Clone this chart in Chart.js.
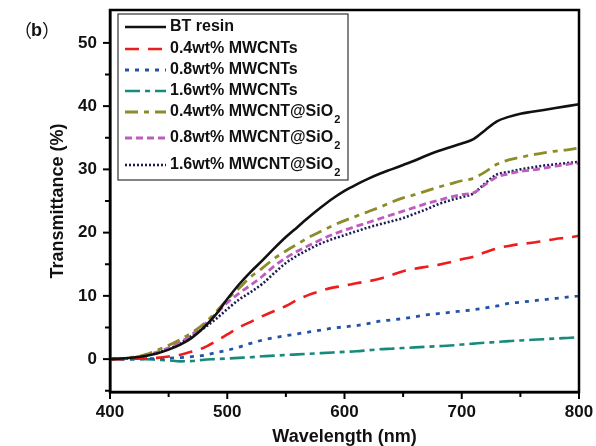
<!DOCTYPE html>
<html>
<head>
<meta charset="utf-8">
<script src="https://cdn.jsdelivr.net/npm/chart.js@4.4.1/dist/chart.umd.min.js"></script>
<style>
  html, body { margin: 0; padding: 0; background: #ffffff; }
  #wrap { width: 596px; height: 446px; position: relative; }
</style>
</head>
<body>
<div id="wrap"><canvas id="c" width="596" height="446"></canvas></div>
<script>
// ---------- data ----------
const wavelengths = [400,410,420,430,440,450,460,470,480,490,500,510,520,530,540,550,560,570,580,590,600,610,620,630,640,650,660,670,680,690,700,710,720,730,740,750,760,770,780,790,800];

const btResin = [0,0.1,0.25,0.5,0.9,1.5,2.3,3.4,5.0,7.0,9.5,11.8,13.8,15.6,17.5,19.3,20.9,22.5,24.0,25.4,26.6,27.6,28.5,29.3,30.0,30.7,31.4,32.2,32.9,33.5,34.1,34.8,36.2,37.6,38.3,38.8,39.1,39.4,39.7,40.0,40.3];
const cnt04 = [0,0,0.05,0.1,0.2,0.4,0.7,1.2,1.8,2.8,3.9,5.0,5.9,6.8,7.6,8.4,9.4,10.2,10.8,11.3,11.6,12.0,12.3,12.7,13.3,13.9,14.3,14.6,14.9,15.3,15.8,16.2,16.9,17.5,17.9,18.2,18.4,18.7,19.0,19.2,19.5];
const cnt08 = [0,0,0,0.05,0.1,0.15,0.25,0.4,0.6,1.0,1.4,1.9,2.5,3.0,3.4,3.7,4.0,4.3,4.6,4.9,5.1,5.3,5.6,6.0,6.2,6.4,6.7,7.0,7.2,7.4,7.6,7.8,8.1,8.4,8.8,9.0,9.2,9.4,9.6,9.8,10.0];
const cnt16 = [0,0,0,0,-0.1,-0.2,-0.35,-0.3,-0.1,0,0.1,0.2,0.3,0.45,0.55,0.65,0.75,0.85,0.95,1.05,1.15,1.25,1.4,1.55,1.65,1.75,1.85,1.95,2.05,2.15,2.3,2.45,2.6,2.7,2.85,2.95,3.05,3.15,3.25,3.35,3.45];
const sio04 = [0,0.1,0.3,0.7,1.4,2.2,3.1,4.2,5.6,7.4,9.4,11.2,13.0,14.4,15.9,17.1,18.2,19.3,20.2,21.1,21.9,22.6,23.3,24.0,24.8,25.5,26.0,26.6,27.2,27.7,28.2,28.6,29.6,30.8,31.5,31.9,32.3,32.6,32.9,33.1,33.4];
const sio08 = [0,0.1,0.25,0.6,1.1,1.8,2.7,3.9,5.4,7.1,8.9,10.4,11.7,13.1,14.7,16.0,17.1,18.0,18.9,19.7,20.4,21.0,21.6,22.2,22.8,23.4,24.0,24.6,25.1,25.6,26.0,26.3,27.6,28.8,29.3,29.7,29.9,30.2,30.5,30.8,31.0];
const sio16 = [0,0.05,0.2,0.5,1.0,1.6,2.5,3.7,4.9,6.3,7.9,9.4,10.6,11.9,13.6,15.2,16.4,17.4,18.3,19.0,19.6,20.2,20.8,21.3,21.8,22.3,23.0,23.7,24.5,25.1,25.6,26.2,27.8,29.2,29.6,30.0,30.3,30.6,30.8,31.0,31.2];

const seriesNames = ['BT resin','0.4wt% MWCNTs','0.8wt% MWCNTs','1.6wt% MWCNTs','0.4wt% MWCNT@SiO2','0.8wt% MWCNT@SiO2','1.6wt% MWCNT@SiO2'];
const seriesValues = [btResin, cnt04, cnt08, cnt16, sio04, sio08, sio16];

const xTicks = [400,500,600,700,800];
const xMinorTicks = [450,550,650,750];
const yTicks = [0,10,20,30,40,50];
const yMinorTicks = [-5,5,15,25,35,45];

const xTitle = 'Wavelength (nm)';
const yTitle = 'Transmittance (%)';
const panelLabel = 'b';

// ---------- styles ----------
const colors = ['#111111','#ee1c1c','#2452a6','#178a7c','#8c8c2a','#bf5cbf','#1c1c55'];
const dashes = [[], [14,9], [4,6], [15,5,5,5], [13,6,5,6], [7,4], [2,2]];
const widths = [2.6, 2.6, 2.8, 2.6, 2.8, 2.8, 2.6];

const datasets = seriesValues.map((vals, i) => ({
  label: seriesNames[i],
  data: wavelengths.map((w, j) => ({x: w, y: vals[j]})),
  borderColor: colors[i],
  backgroundColor: colors[i],
  borderDash: dashes[i],
  borderWidth: widths[i],
  pointRadius: 0,
  tension: 0.3,
  cubicInterpolationMode: 'monotone',
  fill: false
}));

const FONT = '"Liberation Sans", Arial, sans-serif';

const decorPlugin = {
  id: 'decor',
  afterDatasetsDraw(chart) {
    const ctx = chart.ctx;
    const a = chart.chartArea;
    const xs = chart.scales.x, ys = chart.scales.y;
    ctx.save();
    // frame
    ctx.strokeStyle = '#000';
    ctx.lineWidth = 2.5;
    ctx.setLineDash([]);
    ctx.strokeRect(a.left, a.top, a.right - a.left, a.bottom - a.top);
    // ticks (outward)
    ctx.lineWidth = 2;
    const drawX = (v, len) => {
      const px = xs.getPixelForValue(v);
      ctx.beginPath(); ctx.moveTo(px, a.bottom); ctx.lineTo(px, a.bottom + len); ctx.stroke();
    };
    const drawY = (v, len) => {
      const py = ys.getPixelForValue(v);
      ctx.beginPath(); ctx.moveTo(a.left, py); ctx.lineTo(a.left - len, py); ctx.stroke();
    };
    xTicks.forEach(v => drawX(v, 7));
    xMinorTicks.forEach(v => drawX(v, 5));
    yTicks.forEach(v => drawY(v, 7));
    yMinorTicks.forEach(v => drawY(v, 5));

    // legend box
    const bx = 118, by = 14, bw = 230, bh = 166;
    ctx.fillStyle = '#fff';
    ctx.fillRect(bx, by, bw, bh);
    ctx.strokeStyle = '#333';
    ctx.lineWidth = 1.2;
    ctx.strokeRect(bx, by, bw, bh);
    const rowY = [27, 49, 70, 91, 112, 138, 165];
    chart.data.datasets.forEach((ds, i) => {
      const y = rowY[i];
      ctx.save();
      ctx.strokeStyle = ds.borderColor;
      ctx.lineWidth = ds.borderWidth;
      ctx.setLineDash(ds.borderDash);
      ctx.beginPath(); ctx.moveTo(125, y); ctx.lineTo(166, y); ctx.stroke();
      ctx.restore();
      ctx.fillStyle = '#111';
      ctx.textBaseline = 'middle';
      ctx.textAlign = 'left';
      ctx.font = 'bold 16px ' + FONT;
      const label = ds.label;
      const tx = 170;
      if (label.endsWith('SiO2')) {
        const base = label.slice(0, -1);
        ctx.fillText(base, tx, y);
        const w = ctx.measureText(base).width;
        ctx.font = 'bold 11px ' + FONT;
        ctx.fillText('2', tx + w + 1, y + 8);
      } else {
        ctx.fillText(label, tx, y);
      }
    });

    // panel label  （b）
    ctx.fillStyle = '#111';
    ctx.textBaseline = 'middle';
    ctx.font = '18px "Noto Sans CJK SC"';
    ctx.textAlign = 'right';
    ctx.fillText('（', 32, 30);
    ctx.textAlign = 'left';
    ctx.font = 'bold 18px ' + FONT;
    ctx.fillText(panelLabel, 31, 31);
    ctx.font = '18px "Noto Sans CJK SC"';
    ctx.fillText('）', 42, 30);
    ctx.restore();
  }
};

new Chart(document.getElementById('c'), {
  type: 'line',
  data: { datasets },
  plugins: [decorPlugin],
  options: {
    responsive: false,
    animation: false,
    devicePixelRatio: 1,
    layout: { padding: { left: 0, right: 17, top: 10, bottom: 0 } },
    plugins: { legend: { display: false }, tooltip: { enabled: false } },
    scales: {
      x: {
        type: 'linear',
        min: 400, max: 800,
        afterBuildTicks: s => { s.ticks = xTicks.map(v => ({value: v})); },
        afterFit: s => { s.height = 54; s.paddingLeft = 0; s.paddingRight = 0; },
        grid: { display: false, drawTicks: false },
        border: { display: true, color: '#000', width: 2.5 },
        ticks: { color: '#111', padding: 10, font: { family: FONT, size: 17, weight: 'bold' } },
        title: { display: true, text: xTitle, color: '#111', padding: { top: 0, bottom: 0 },
                 font: { family: FONT, size: 18, weight: 'bold', lineHeight: 1 } }
      },
      y: {
        type: 'linear',
        min: -5.2, max: 55.2,
        afterBuildTicks: s => { s.ticks = yTicks.map(v => ({value: v})); },
        afterFit: s => { s.width = 110; s.paddingTop = 0; s.paddingBottom = 0; },
        grid: { display: false, drawTicks: false },
        border: { display: true, color: '#000', width: 2.5 },
        ticks: { color: '#111', padding: 13, font: { family: FONT, size: 17, weight: 'bold' } },
        title: { display: true, text: yTitle, color: '#111', padding: { top: 47, bottom: 0 },
                 font: { family: FONT, size: 18, weight: 'bold', lineHeight: 1.2 } }
      }
    }
  }
});
</script>
</body>
</html>
